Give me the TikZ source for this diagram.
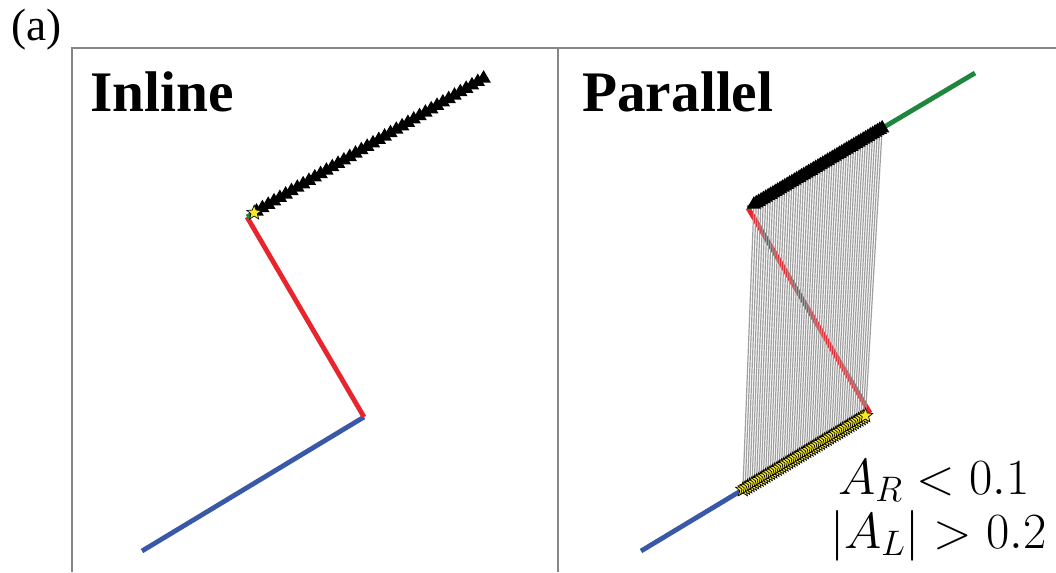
\RequirePackage{fix-cm}
\documentclass[tikz,border=0pt]{standalone}
\usepackage{amsmath}
\usepackage{fontspec}
\setmainfont{Liberation Serif}
\usetikzlibrary{shapes.geometric,calc}

\definecolor{trblue}{RGB}{58,88,168}
\definecolor{trred}{RGB}{232,36,44}
\definecolor{trgreen}{RGB}{30,135,62}
\definecolor{staryel}{RGB}{245,232,40}

\begin{document}
\begin{tikzpicture}[x=0.75pt,y=-0.75pt,
    frame/.style={draw=gray!95, line width=1.1pt},
    traj/.style={line width=3.6pt, line join=round},
    tri/.style={regular polygon, regular polygon sides=3, fill=black, inner sep=0pt, minimum size=12.5pt},
    startmark/.style={star, star points=5, star point ratio=2.3, fill=staryel, draw=black, line width=0.5pt, inner sep=0pt, minimum size=11.5pt},
    link/.style={gray!75, line width=0.9pt},
    title/.style={anchor=base west, inner sep=0pt, font=\fontsize{43}{50}\selectfont\bfseries},
    cond/.style={anchor=base east, inner sep=0pt, font=\fontsize{38}{42}\selectfont}
]
\useasboundingbox (0,0) rectangle (1056,572);

\draw[frame] (72,572) -- (72,48) -- (1056,48);
\draw[frame] (558,48) -- (558,572);

\node[anchor=base west, inner sep=0pt, font=\fontsize{34}{38}\selectfont] (tag) at (11,40) {(a)};
\node[title] (inl) at (90,111) {Inline};
\node[title] (par) at (582,111) {Parallel};

\coordinate (L0) at (142,551);
\coordinate (L1) at (364,417);
\coordinate (L2) at (247,217);
\coordinate (L3) at (486,77);
\coordinate (R0) at (641,551);
\coordinate (R1) at (870,413);
\coordinate (R2) at (748,208);
\coordinate (R3) at (975,73);

\draw[traj, trblue] (L0) -- (L1);
\draw[traj, trred] (L1) -- (L2);
\draw[traj, trgreen] (L2) -- (L3);
\draw[traj, trblue] (R0) -- (R1);
\draw[traj, trred] (R1) -- (R2);
\draw[traj, trgreen] (R2) -- (R3);

\foreach \i in {0,...,39} {
    \pgfmathsetmacro\f{0.04+0.95*\i/39}
    \node[tri] (lt\i) at ($(L2)!\f!(L3)$) {};
}
\node[startmark] (ls) at ($(L2)!0.03!(L3)$) {};

\foreach \i in {0,...,54} {
    \pgfmathsetmacro\ft{0.026+0.565*\i/54}
    \pgfmathsetmacro\fs{0.445+0.535*\i/54}
    \coordinate (rt\i) at ($(R2)!\ft!(R3)$);
    \coordinate (rs\i) at ($(R0)!\fs!(R1)$);
    \draw[link] (rt\i) -- (rs\i);
}
\foreach \i in {0,...,54} {
    \node[startmark] (ms\i) at (rs\i) {};
    \node[tri] (mt\i) at (rt\i) {};
}

\node[cond] (c1) at (1030,494) {$A_R<0.1$};
\node[cond] (c2) at (1047,548) {$|A_L|>0.2$};
\end{tikzpicture}
\end{document}
